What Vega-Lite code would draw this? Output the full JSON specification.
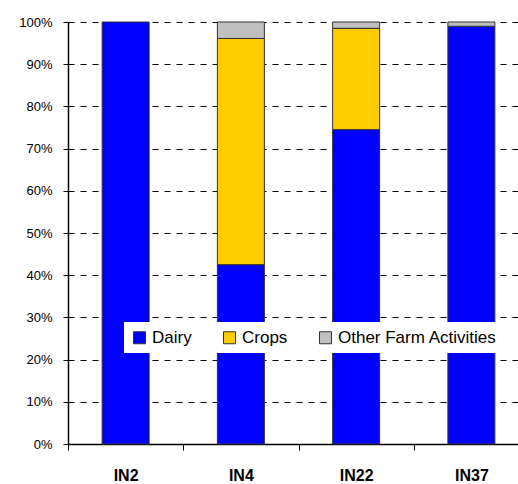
{
  "$schema": "https://vega.github.io/schema/vega-lite/v6.json",
  "autosize": {"type": "none"},
  "width": 450,
  "height": 422,
  "padding": {"left": 68, "top": 22, "right": 0, "bottom": 40},
  "background": "white",
  "config": {
    "view": {"stroke": null},
    "font": "Liberation Sans"
  },
  "data": {
    "values": [
      {"site": "IN2", "activity": "Dairy", "share": 1.0, "k": 1},
      {"site": "IN4", "activity": "Dairy", "share": 0.425, "k": 1},
      {"site": "IN4", "activity": "Crops", "share": 0.536, "k": 2},
      {"site": "IN4", "activity": "Other Farm Activities", "share": 0.039, "k": 3},
      {"site": "IN22", "activity": "Dairy", "share": 0.745, "k": 1},
      {"site": "IN22", "activity": "Crops", "share": 0.24, "k": 2},
      {"site": "IN22", "activity": "Other Farm Activities", "share": 0.015, "k": 3},
      {"site": "IN37", "activity": "Dairy", "share": 0.99, "k": 1},
      {"site": "IN37", "activity": "Other Farm Activities", "share": 0.01, "k": 3}
    ]
  },
  "mark": {"type": "bar", "width": 47, "stroke": "#333333", "strokeWidth": 1},
  "encoding": {
    "x": {
      "field": "site",
      "type": "nominal",
      "sort": ["IN2", "IN4", "IN22", "IN37"],
      "scale": {"range": [0, 461], "paddingInner": 0, "paddingOuter": 0},
      "axis": {
        "title": null,
        "labelAngle": 0,
        "labelFont": "Liberation Sans",
        "labelFontSize": 16,
        "labelFontWeight": "bold",
        "labelColor": "black",
        "labelPadding": 17,
        "tickBand": "extent",
        "tickSize": 6,
        "tickColor": "black",
        "domainColor": "black",
        "domainWidth": 1.5,
        "grid": false
      }
    },
    "y": {
      "field": "share",
      "type": "quantitative",
      "stack": "zero",
      "scale": {"domain": [0, 1], "nice": false},
      "axis": {
        "title": null,
        "format": ".0%",
        "values": [0, 0.1, 0.2, 0.3, 0.4, 0.5, 0.6, 0.7, 0.8, 0.9, 1.0],
        "labelFont": "Liberation Sans",
        "labelFontSize": 13,
        "labelColor": "black",
        "labelPadding": 11,
        "tickSize": 5,
        "tickColor": "black",
        "domainColor": "black",
        "domainWidth": 1.5,
        "grid": true,
        "gridColor": "black",
        "gridDash": [6, 6],
        "gridWidth": 1,
        "gridOpacity": 1
      }
    },
    "color": {
      "field": "activity",
      "type": "nominal",
      "scale": {
        "domain": ["Dairy", "Crops", "Other Farm Activities"],
        "range": ["#0000FF", "#FFCC00", "#C0C0C0"]
      },
      "legend": {
        "title": null,
        "orient": "none",
        "legendX": 56,
        "legendY": 300,
        "direction": "horizontal",
        "symbolType": "square",
        "symbolSize": 144,
        "symbolStrokeColor": "#333333",
        "symbolStrokeWidth": 1,
        "labelFont": "Liberation Sans",
        "labelFontSize": 17,
        "labelColor": "black",
        "labelOffset": 4,
        "columnPadding": 29,
        "padding": 7,
        "fillColor": "white",
        "strokeColor": null
      }
    },
    "order": {"field": "k", "type": "quantitative"}
  }
}
